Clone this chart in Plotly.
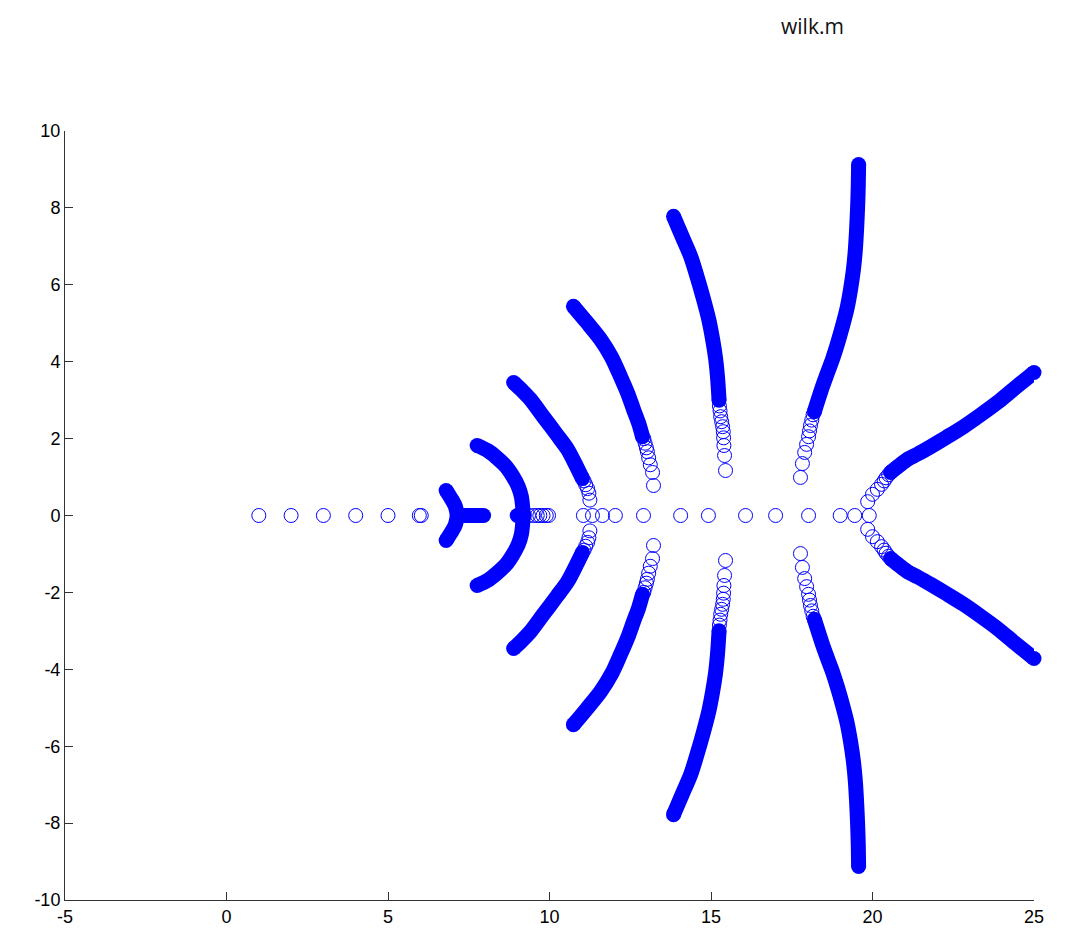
import plotly.graph_objects as go

# ---- data (upper half; lower half is the complex conjugate) ----
# real-axis isolated roots (open circles)
axis_x = [1, 2, 3, 4, 5, 5.97, 6.03, 9.35, 9.5, 9.62, 9.7, 9.8, 9.9, 9.97,
          11.05, 11.33, 11.64, 12.04, 12.91, 14.06, 14.92, 16.07, 17.0,
          18.02, 19.0, 19.45, 19.9]

# dense real-axis bars
barA_x = [7.15, 7.96]
barB_x = [9.0, 9.22]

# dense branches (x, y>=0)
A_x = [6.8, 6.95, 7.08, 7.15]
A_y = [0.65, 0.45, 0.25, 0.0]
B_x = [7.76, 8.10, 8.36, 8.65, 8.85, 9.03, 9.13, 9.19]
B_y = [1.82, 1.68, 1.51, 1.28, 1.04, 0.76, 0.49, 0.0]
C_x = [8.89, 9.15, 9.41, 9.81, 10.22, 10.56, 10.84, 11.02]
C_y = [3.46, 3.25, 3.02, 2.57, 2.11, 1.72, 1.27, 0.96]
D_x = [10.74, 11.15, 11.58, 11.92, 12.20, 12.42, 12.60, 12.76, 12.88]
D_y = [5.44, 5.03, 4.58, 4.12, 3.61, 3.18, 2.76, 2.40, 2.05]
E_x = [13.84, 14.10, 14.37, 14.58, 14.77, 14.93, 15.05, 15.14, 15.20, 15.25]
E_y = [7.78, 7.27, 6.74, 6.18, 5.62, 5.10, 4.58, 4.10, 3.62, 3.00]
F_x = [19.57, 19.56, 19.54, 19.51, 19.47, 19.41, 19.32, 19.21, 19.07, 18.92, 18.76, 18.60, 18.45, 18.20]
F_y = [9.13, 8.60, 8.04, 7.48, 6.92, 6.40, 5.88, 5.38, 4.92, 4.48, 4.06, 3.70, 3.35, 2.70]
G_x = [25.0, 24.40, 23.87, 23.35, 22.82, 22.30, 21.80, 21.40, 21.08, 20.80, 20.56]
G_y = [3.72, 3.31, 2.94, 2.62, 2.31, 2.04, 1.79, 1.60, 1.46, 1.28, 1.12]

# sparse tails of the branches (open circles)
Cs_x = [11.07, 11.12, 11.18, 11.22, 11.25]
Cs_y = [0.90, 0.80, 0.70, 0.58, 0.40]
Ds_x = [12.92, 12.96, 13.00, 13.03, 13.07, 13.12, 13.19, 13.22]
Ds_y = [2.00, 1.88, 1.76, 1.66, 1.50, 1.32, 1.12, 0.78]
Es_x = [15.26, 15.28, 15.30, 15.33, 15.36, 15.38, 15.39, 15.40, 15.42, 15.45]
Es_y = [2.85, 2.72, 2.57, 2.44, 2.31, 2.18, 2.02, 1.82, 1.56, 1.17]
Fs_x = [18.16, 18.12, 18.08, 18.05, 18.02, 17.96, 17.90, 17.83, 17.77]
Fs_y = [2.62, 2.48, 2.34, 2.20, 2.05, 1.85, 1.64, 1.35, 0.99]
Gs_x = [20.50, 20.42, 20.36, 20.28, 20.15, 20.0, 19.85]
Gs_y = [1.06, 0.98, 0.90, 0.81, 0.68, 0.55, 0.36]

# tick labels (plain hyphen minus, as in the reference)
x_ticks = [-5, 0, 5, 10, 15, 20, 25]
x_labels = ["-5", "0", "5", "10", "15", "20", "25"]
y_ticks = [-10, -8, -6, -4, -2, 0, 2, 4, 6, 8, 10]
y_labels = ["-10", "-8", "-6", "-4", "-2", "0", "2", "4", "6", "8", "10"]

BLUE = "#0000ff"
BAND = 15
fig = go.Figure()

def dense(xs, ys):
    fig.add_trace(go.Scatter(x=xs, y=ys, mode="lines",
                             line=dict(color=BLUE, width=BAND, shape="spline", smoothing=0.8),
                             hoverinfo="skip", showlegend=False))
    fig.add_trace(go.Scatter(x=[xs[0], xs[-1]], y=[ys[0], ys[-1]], mode="markers",
                             marker=dict(symbol="circle", size=BAND, color=BLUE,
                                         line=dict(width=0)),
                             cliponaxis=False,
                             hoverinfo="skip", showlegend=False))

def sparse(xs, ys):
    fig.add_trace(go.Scatter(x=xs, y=ys, mode="markers",
                             marker=dict(symbol="circle-open", size=14,
                                         color=BLUE, line=dict(width=1, color=BLUE)),
                             hoverinfo="skip", showlegend=False))

for bx, by in [(A_x, A_y), (B_x, B_y), (C_x, C_y), (D_x, D_y),
               (E_x, E_y), (F_x, F_y), (G_x, G_y)]:
    dense(bx, by)
    dense(bx, [-v for v in by])

dense(barA_x, [0, 0])
dense(barB_x, [0, 0])

for sx, sy in [(Cs_x, Cs_y), (Ds_x, Ds_y), (Es_x, Es_y), (Fs_x, Fs_y), (Gs_x, Gs_y)]:
    sparse(sx, sy)
    sparse(sx, [-v for v in sy])

sparse(axis_x, [0] * len(axis_x))

axis_font = dict(family="Liberation Sans, Arial, sans-serif", size=18, color="#000")
fig.update_layout(
    width=1050, height=922,
    margin=dict(l=57, r=24, t=123, b=30),
    plot_bgcolor="white", paper_bgcolor="white",
    xaxis=dict(range=[-5, 25], tickvals=x_ticks, ticktext=x_labels,
               ticks="inside", ticklen=8, tickcolor="#333", automargin=False,
               showline=True, linecolor="#333", linewidth=1,
               showgrid=False, zeroline=False, tickfont=axis_font),
    yaxis=dict(range=[-10, 10], tickvals=y_ticks, ticktext=y_labels,
               ticks="inside", ticklen=8, tickcolor="#333", automargin=False,
               showline=True, linecolor="#333", linewidth=1,
               showgrid=False, zeroline=False, tickfont=axis_font),
    annotations=[dict(text="wilk.m", xref="paper", yref="paper",
                      x=0.771, y=1.157, xanchor="center", yanchor="top",
                      showarrow=False,
                      font=dict(family="Open Sans, sans-serif", size=21, color="#111"))],
)

fig.write_html("out.html")
